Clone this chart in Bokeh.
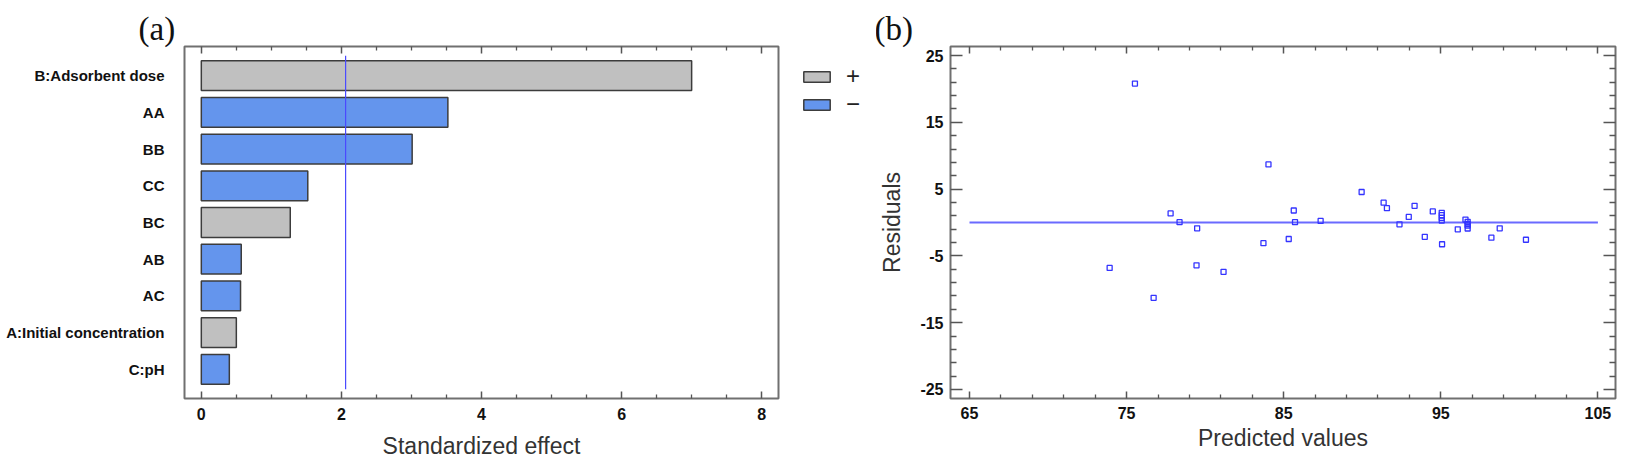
from bokeh.plotting import figure
from bokeh.layouts import row
from bokeh.models import (FactorRange, Range1d, LinearAxis, FixedTicker, Legend,
                          LegendItem, ColumnDataSource)
from bokeh.embed import file_html
from bokeh.resources import INLINE

# ---------------- data: (a) standardized Pareto chart ----------------
effect_terms = ["B:Adsorbent dose", "AA", "BB", "CC", "BC", "AB", "AC",
                "A:Initial concentration", "C:pH"]
effect_values = [7.0, 3.52, 3.01, 1.52, 1.27, 0.57, 0.56, 0.50, 0.40]
effect_signs = ["+", "-", "-", "-", "+", "-", "-", "+", "-"]
critical_effect = 2.06
effect_ticks = [0, 2, 4, 6, 8]
sign_labels = ["+", "\u2212"]

# ---------------- data: (b) residuals vs predicted ----------------
predicted = [75.53, 73.92, 76.72, 77.80, 78.37, 79.49, 79.45, 81.17, 83.71, 84.03,
             85.32, 85.64, 85.72, 87.35, 89.96, 91.36, 91.57, 92.37, 92.96, 93.33,
             93.98, 94.49, 95.06, 95.06, 95.06, 95.06, 95.08, 96.08, 96.57, 96.71,
             96.71, 96.71, 96.71, 98.22, 98.75, 100.42]
residuals = [20.8, -6.8, -11.28, 1.36, 0.05, -0.87, -6.41, -7.39, -3.1, 8.7,
             -2.47, 1.8, 0.05, 0.24, 4.57, 2.97, 2.14, -0.28, 0.83, 2.49,
             -2.14, 1.66, 1.45, 1.1, 0.7, 0.3, -3.26, -1.02, 0.44, 0.1,
             -0.2, -0.45, -0.9, -2.28, -0.87, -2.58]
pred_ticks = [65, 75, 85, 95, 105]
resid_ticks = [-25, -15, -5, 5, 15, 25]
zero_line_x = [65, 105]

BOLD = "'Liberation Sans', Arial, sans-serif"
SANS = "'Liberation Sans', Arial, sans-serif"
SERIF = "'Liberation Serif', 'DejaVu Serif', serif"
TICK_COLOR = "#555555"
FRAME_COLOR = "#707070"
POS_STYLE = dict(fill_color="#c0c0c0", line_color="#3c3c3c", line_width=1.5)
NEG_STYLE = dict(fill_color="#6495ed", line_color="#3c3c3c", line_width=1.5)


def style_axis(ax, major_in, minor_in, labels=True, size="16px"):
    ax.axis_line_color = None
    ax.major_tick_in = major_in
    ax.major_tick_out = 0
    ax.minor_tick_in = minor_in
    ax.minor_tick_out = 0
    ax.major_tick_line_color = TICK_COLOR
    ax.minor_tick_line_color = TICK_COLOR
    ax.major_tick_line_width = 1.5
    ax.minor_tick_line_width = 1.3
    if labels:
        ax.major_label_text_font = BOLD
        ax.major_label_text_font_style = "bold"
        ax.major_label_text_font_size = size
        ax.major_label_text_color = "#111111"
    else:
        ax.major_label_text_font_size = "0px"
        ax.major_label_standoff = 0


def style_title(p, text, offset):
    p.title.text = text
    p.title.text_font = SERIF
    p.title.text_font_style = "normal"
    p.title.text_font_size = "33px"
    p.title.text_color = "#111111"
    p.title.align = "left"
    p.title.offset = offset
    p.title.standoff = 0


pos_terms = [t for t, s in zip(effect_terms, effect_signs) if s == "+"]
pos_vals = [v for v, s in zip(effect_values, effect_signs) if s == "+"]
neg_terms = [t for t, s in zip(effect_terms, effect_signs) if s == "-"]
neg_vals = [v for v, s in zip(effect_values, effect_signs) if s == "-"]
src_pos = ColumnDataSource(dict(term=pos_terms, effect=pos_vals))
src_neg = ColumnDataSource(dict(term=neg_terms, effect=neg_vals))

# ======================= panel (a) =======================
y_terms = FactorRange(factors=list(reversed(effect_terms)),
                      range_padding=0.29, range_padding_units="absolute")
pa = figure(width=780, height=471,
            x_range=Range1d(-0.24, 8.24), y_range=y_terms,
            min_border_left=184, min_border_right=2,
            min_border_top=44, min_border_bottom=73,
            output_backend="svg", toolbar_location=None)
pa.xgrid.visible = False
pa.ygrid.visible = False
pa.outline_line_color = FRAME_COLOR
pa.outline_line_width = 2
pa.background_fill_color = "white"
style_title(pa, "(a)", -46)

minor_a = [i * 0.5 for i in range(0, 17) if (i * 0.5) not in effect_ticks]
bx = pa.xaxis[0]
bx.ticker = FixedTicker(ticks=effect_ticks, minor_ticks=minor_a)
style_axis(bx, 7, 4)
bx.major_label_standoff = 9
bx.axis_label = "Standardized effect"
bx.axis_label_text_font = SANS
bx.axis_label_text_font_style = "normal"
bx.axis_label_text_font_size = "23px"
bx.axis_label_text_color = "#333333"
bx.axis_label_standoff = 10

tx = LinearAxis(ticker=FixedTicker(ticks=effect_ticks, minor_ticks=minor_a))
style_axis(tx, 7, 4, labels=False)
pa.add_layout(tx, "above")

ya = pa.yaxis[0]
ya.axis_line_color = None
ya.major_tick_line_color = None
ya.minor_tick_line_color = None
ya.major_label_text_font = BOLD
ya.major_label_text_font_style = "bold"
ya.major_label_text_font_size = "15px"
ya.major_label_text_color = "#111111"
ya.major_label_standoff = 14

pa.hbar(y="term", right="effect", left=0, height=0.81, source=src_pos, **POS_STYLE)
pa.hbar(y="term", right="effect", left=0, height=0.81, source=src_neg, **NEG_STYLE)

pa.segment(x0=[critical_effect], x1=[critical_effect],
           y0=[(effect_terms[-1], -0.54)], y1=[(effect_terms[0], 0.54)],
           line_color="#4a4aff", line_width=1.2)

# ---------------- legend strip (between the panels) ----------------
# the same bar series seen through an x-range that keeps them out of view
# (and flattened), so only the legend keys of this strip are visible
pl = figure(width=96, height=471, x_range=Range1d(-20, -19), y_range=y_terms,
            min_border=0, output_backend="svg", toolbar_location=None)
pl.axis.visible = False
pl.grid.visible = False
pl.outline_line_color = None
pl.background_fill_color = None
pl.border_fill_color = "white"
lg_pos = pl.hbar(y="term", right="effect", left=0, height=0, source=src_pos, **POS_STYLE)
lg_neg = pl.hbar(y="term", right="effect", left=0, height=0, source=src_neg, **NEG_STYLE)
legend = Legend(items=[LegendItem(label=sign_labels[0], renderers=[lg_pos]),
                       LegendItem(label=sign_labels[1], renderers=[lg_neg])],
                location=(20, 280), padding=0, margin=0, spacing=-5,
                glyph_width=33, glyph_height=13, label_standoff=13,
                label_text_font=SANS, label_text_font_size="24px",
                label_text_color="#222222",
                border_line_color=None, background_fill_color=None)
pl.add_layout(legend)

# ======================= panel (b) =======================
pb = figure(width=750, height=471,
            x_range=Range1d(63.79, 106.12), y_range=Range1d(-26.36, 26.36),
            min_border_left=73, min_border_right=11,
            min_border_top=46, min_border_bottom=64,
            output_backend="svg", toolbar_location=None)
pb.xgrid.visible = False
pb.ygrid.visible = False
pb.outline_line_color = FRAME_COLOR
pb.outline_line_width = 2
pb.background_fill_color = "white"
style_title(pb, "(b)", -76)

minor_x = [v for v in range(63, 107, 2) if v not in pred_ticks]
minor_y = [v for v in range(-27, 28, 2) if v not in resid_ticks]

xb = pb.xaxis[0]
xb.ticker = FixedTicker(ticks=pred_ticks, minor_ticks=minor_x)
style_axis(xb, 7, 4)
xb.major_label_standoff = 8
xb.axis_label = "Predicted values"
xb.axis_label_text_font = SANS
xb.axis_label_text_font_style = "normal"
xb.axis_label_text_font_size = "23px"
xb.axis_label_text_color = "#333333"
xb.axis_label_standoff = 3

yb = pb.yaxis[0]
yb.ticker = FixedTicker(ticks=resid_ticks, minor_ticks=minor_y)
style_axis(yb, 12, 6)
yb.major_label_overrides = {v: str(v) for v in resid_ticks}
yb.major_label_standoff = 7
yb.axis_label = "Residuals"
yb.axis_label_text_font = SANS
yb.axis_label_text_font_style = "normal"
yb.axis_label_text_font_size = "23px"
yb.axis_label_text_color = "#333333"
yb.axis_label_standoff = 12

txb = LinearAxis(ticker=FixedTicker(ticks=pred_ticks, minor_ticks=minor_x))
style_axis(txb, 7, 4, labels=False)
pb.add_layout(txb, "above")
ryb = LinearAxis(ticker=FixedTicker(ticks=resid_ticks, minor_ticks=minor_y))
style_axis(ryb, 12, 6, labels=False)
pb.add_layout(ryb, "right")

pb.segment(x0=[zero_line_x[0]], x1=[zero_line_x[1]], y0=[0], y1=[0],
           line_color="#6a6aff", line_width=2)
pb.scatter(x=predicted, y=residuals, marker="square", size=5,
           fill_color=None, line_color="#3434ff", line_width=1.3)

layout = row(pa, pl, pb, spacing=0)
open("out.html", "w").write(file_html(layout, INLINE))
